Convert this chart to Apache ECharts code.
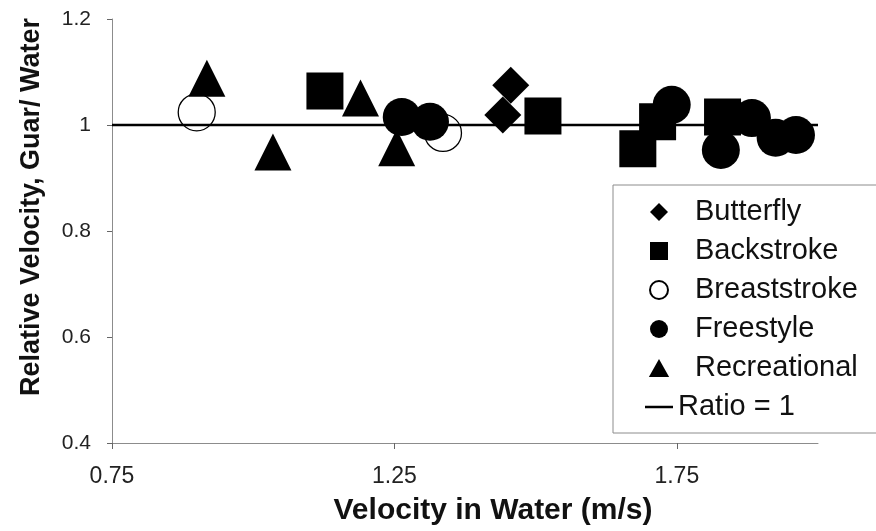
<!DOCTYPE html>
<html>
<head>
<meta charset="utf-8">
<script src="https://cdn.jsdelivr.net/npm/echarts@6/dist/echarts.min.js"></script>
<style>
html,body{margin:0;padding:0;background:#fff;}
#chart{width:876px;height:531px;}
</style>
</head>
<body>
<div id="chart"></div>
<script>
// Data: [velocity in water (m/s), relative velocity guar/water]
var butterfly = [[1.456, 1.075], [1.442, 1.019]];
var backstroke = [[1.127, 1.064], [1.513, 1.017], [1.681, 0.955], [1.716, 1.006], [1.831, 1.015]];
var breaststroke = [[0.900, 1.024], [1.336, 0.985]];
var freestyle = [[1.263, 1.015], [1.313, 1.006], [1.741, 1.038], [1.828, 0.953], [1.883, 1.013], [1.925, 0.976], [1.961, 0.981]];
var recreational = [[0.918, 1.088], [1.035, 0.949], [1.190, 1.051], [1.254, 0.957]];
var ratioLine = [[0.75, 1], [2.0, 1]];
var xTickValues = [0.75, 1.25, 1.75];
var seriesNames = ['Butterfly', 'Backstroke', 'Breaststroke', 'Freestyle', 'Recreational', 'Ratio = 1'];

var FONT = '"Liberation Sans", Arial, sans-serif';
var chart = echarts.init(document.getElementById('chart'), null, {renderer: 'canvas'});

function scatter(name, data, symbol, size, itemStyle) {
  return {
    name: name, type: 'scatter', data: data, symbol: symbol, symbolSize: size,
    itemStyle: itemStyle || {color: '#000', opacity: 1}, emphasis: {disabled: true}
  };
}

var ICON_DIAMOND = 'path://M10,0L20,10L10,20L0,10Z';
var ICON_SQUARE = 'path://M0,0H16V16H0Z';
var ICON_CIRCLE = 'path://M17,8.5A8.5,8.5,0,1,1,0,8.5A8.5,8.5,0,1,1,17,8.5Z';
var ICON_TRIANGLE = 'path://M9,0L18,16L0,16Z';
var ICON_LINE = 'path://M0,0H28V2.5H0Z';

var option = {
  animation: false,
  backgroundColor: '#fff',
  grid: {left: 112, right: 58, top: 19, bottom: 87},
  xAxis: {
    type: 'value', min: 0.75, max: 2.0,
    name: 'Velocity in Water (m/s)', nameLocation: 'middle', nameGap: 53,
    nameTextStyle: {fontFamily: FONT, fontSize: 30, fontWeight: 'bold', color: '#111', padding: [0, 0, 0, 56]},
    axisLine: {show: true, lineStyle: {color: '#8c8c8c', width: 1}},
    axisTick: {show: true, length: 6, customValues: xTickValues, lineStyle: {color: '#666'}},
    axisLabel: {customValues: xTickValues, fontFamily: FONT, fontSize: 23, color: '#222', margin: 22},
    splitLine: {show: false}
  },
  yAxis: {
    type: 'value', min: 0.4, max: 1.2, interval: 0.2,
    name: 'Relative Velocity, Guar/ Water', nameLocation: 'middle', nameGap: 67, nameRotate: 90,
    nameTextStyle: {fontFamily: FONT, fontSize: 27, fontWeight: 'bold', color: '#111', padding: [0, 0, 0, 48]},
    axisLine: {show: true, lineStyle: {color: '#8c8c8c', width: 1}},
    axisTick: {show: true, length: 5, lineStyle: {color: '#666'}},
    axisLabel: {fontFamily: FONT, fontSize: 21, color: '#222', margin: 21},
    splitLine: {show: false}
  },
  legend: {
    orient: 'vertical', left: 613, top: 185,
    padding: [12, 20, 11, 32], itemGap: 9, itemWidth: 28, itemHeight: 18,
    symbolKeepAspect: true,
    borderColor: '#8c8c8c', borderWidth: 1,
    textStyle: {fontFamily: FONT, fontSize: 29, lineHeight: 30, color: '#111', padding: [0, 0, 0, 17]},
    data: [
      {name: seriesNames[0], icon: ICON_DIAMOND},
      {name: seriesNames[1], icon: ICON_SQUARE},
      {name: seriesNames[2], icon: ICON_CIRCLE},
      {name: seriesNames[3], icon: ICON_CIRCLE},
      {name: seriesNames[4], icon: ICON_TRIANGLE},
      {name: seriesNames[5], icon: ICON_LINE, textStyle: {padding: [0, 0, 0, 0]}}
    ]
  },
  series: [
    scatter(seriesNames[0], butterfly, 'diamond', 37),
    scatter(seriesNames[1], backstroke, 'rect', 37),
    scatter(seriesNames[2], breaststroke, 'circle', 37, {color: '#fff', borderColor: '#000', borderWidth: 1.3, opacity: 1}),
    scatter(seriesNames[3], freestyle, 'circle', 38),
    scatter(seriesNames[4], recreational, 'triangle', 37),
    {
      name: seriesNames[5], type: 'line', data: ratioLine, symbol: 'none', showSymbol: false,
      lineStyle: {color: '#000', width: 2.5}, itemStyle: {color: '#000'}, z: 3,
      emphasis: {disabled: true}
    }
  ]
};
chart.setOption(option);
</script>
</body>
</html>
